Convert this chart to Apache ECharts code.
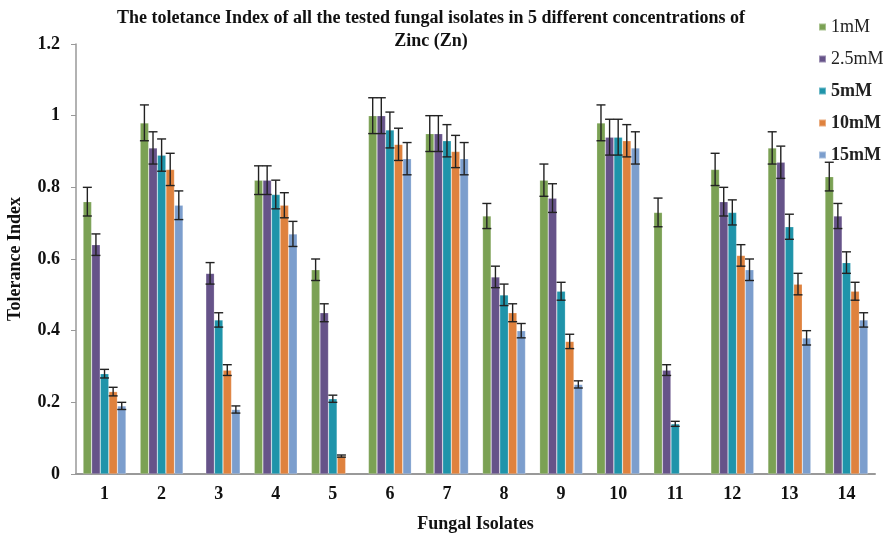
<!DOCTYPE html>
<html><head><meta charset="utf-8">
<script src="https://cdn.jsdelivr.net/npm/echarts@6/dist/echarts.min.js"></script>
<style>html,body{margin:0;padding:0;background:#fff}#c{width:887px;height:539px}</style>
</head><body><div id="c"></div>
<script>
var categories = ['1','2','3','4','5','6','7','8','9','10','11','12','13','14'];
var seriesNames = ['1mM','2.5mM','5mM','10mM','15mM'];
var v1mM   = [0.76,0.98,null,0.82,0.57,1.00,0.95,0.72,0.82,0.98,0.73,0.85,0.91,0.83];
var v2_5mM = [0.64,0.91,0.56,0.82,0.45,1.00,0.95,0.55,0.77,0.94,0.29,0.76,0.87,0.72];
var v5mM   = [0.28,0.89,0.43,0.78,0.21,0.96,0.93,0.50,0.51,0.94,0.14,0.73,0.69,0.59];
var v10mM  = [0.23,0.85,0.29,0.75,0.05,0.92,0.90,0.45,0.37,0.93,null,0.61,0.53,0.51];
var v15mM  = [0.19,0.75,0.18,0.67,null,0.88,0.88,0.40,0.25,0.91,null,0.57,0.38,0.43];
var e1mM   = [0.04,0.05,null,0.04,0.03,0.05,0.05,0.035,0.045,0.05,0.04,0.045,0.045,0.04];
var e2_5mM = [0.03,0.045,0.03,0.04,0.025,0.05,0.05,0.03,0.04,0.05,0.015,0.04,0.045,0.035];
var e5mM   = [0.012,0.045,0.02,0.04,0.01,0.05,0.045,0.03,0.025,0.05,0.007,0.035,0.035,0.03];
var e10mM  = [0.012,0.045,0.015,0.035,0.003,0.045,0.045,0.025,0.02,0.045,null,0.03,0.03,0.025];
var e15mM  = [0.01,0.04,0.01,0.035,null,0.045,0.045,0.02,0.01,0.045,null,0.03,0.02,0.02];
var yTicks = [0,0.2,0.4,0.6,0.8,1,1.2];

var values = [v1mM,v2_5mM,v5mM,v10mM,v15mM];
var errors = [e1mM,e2_5mM,e5mM,e10mM,e15mM];
var colors = ['#7ba154','#665389','#1f94aa','#df823e','#7c9ecd'];
var BW = 8.6;
var boldNames = {'5mM':1,'10mM':1,'15mM':1};
var FF = 'Liberation Serif';

var series = [];
values.forEach(function(vals,i){
  series.push({
    name: seriesNames[i], type:'bar', data: vals, barWidth: BW, barGap: '0%',
    itemStyle:{color: colors[i], borderColor:'rgba(255,255,255,0.35)', borderWidth:0.6},
    z:2
  });
});
values.forEach(function(vals,i){
  var data = vals.map(function(v,k){ return v==null? null : [k, v, errors[i][k]]; }).filter(function(d){return d;});
  series.push({
    type:'custom', silent:true, z:5,
    data: data,
    renderItem: function(params, api){
      var k = api.value(0), v = api.value(1), e = api.value(2);
      var c = api.coord([k, v]);
      var x = c[0] + (i-2)*BW;
      var top = api.coord([k, v+e])[1];
      var bot = api.coord([k, v-e])[1];
      var hw = 4.5;
      var st = {stroke:'#222', lineWidth:1.4};
      return {type:'group', children:[
        {type:'line', shape:{x1:x,y1:top,x2:x,y2:bot}, style:st},
        {type:'line', shape:{x1:x-hw,y1:top,x2:x+hw,y2:top}, style:st},
        {type:'line', shape:{x1:x-hw,y1:bot,x2:x+hw,y2:bot}, style:st}
      ]};
    }
  });
});

var chart = echarts.init(document.getElementById('c'));
chart.setOption({
  animation:false,
  textStyle:{fontFamily:FF},
  title:{
    text:'The toletance Index of all the tested fungal isolates in 5 different concentrations of\nZinc (Zn)',
    left:426, top:2, textAlign:'center',
    textStyle:{fontFamily:FF, fontWeight:'bold', fontSize:18, lineHeight:23, color:'#111'}
  },
  legend:{
    orient:'vertical', left:813, top:13, itemGap:14, itemWidth:7, itemHeight:7,
    icon:'rect', data: seriesNames,
    formatter:function(n){ return boldNames[n] ? '{b|'+n+'}' : '{r|'+n+'}'; },
    textStyle:{fontFamily:FF, fontSize:18, color:'#222',
      rich:{ r:{fontFamily:FF, fontSize:18, lineHeight:18, color:'#222'},
             b:{fontFamily:FF, fontSize:18, lineHeight:18, fontWeight:'bold', color:'#222'} } }
  },
  grid:{left:76, right:12, top:44, bottom:65, containLabel:false, outerBoundsMode:'none'},
  xAxis:{
    type:'category', data:categories,
    name:'Fungal Isolates', nameLocation:'middle', nameGap:41,
    nameTextStyle:{fontFamily:FF, fontWeight:'bold', fontSize:18, color:'#111'},
    axisLine:{lineStyle:{color:'#999', width:2}},
    axisTick:{show:false},
    axisLabel:{fontFamily:FF, fontWeight:'bold', fontSize:18, color:'#111', margin:11}
  },
  yAxis:{
    type:'value', min:0, max:1.2, interval:0.2,
    name:'Tolerance Index', nameLocation:'middle', nameGap:52, nameRotate:90,
    nameTextStyle:{fontFamily:FF, fontWeight:'bold', fontSize:18, color:'#111'},
    axisLine:{show:true, lineStyle:{color:'#999', width:1.5}},
    axisTick:{show:true, length:5, lineStyle:{color:'#999'}},
    splitLine:{show:false},
    axisLabel:{fontFamily:FF, fontWeight:'bold', fontSize:18, color:'#111', margin:16,
      formatter:function(v){ var t = yTicks.filter(function(x){return Math.abs(x-v)<1e-6;}); return t.length? String(t[0]) : ''; }}
  },
  series: series
});
</script></body></html>
